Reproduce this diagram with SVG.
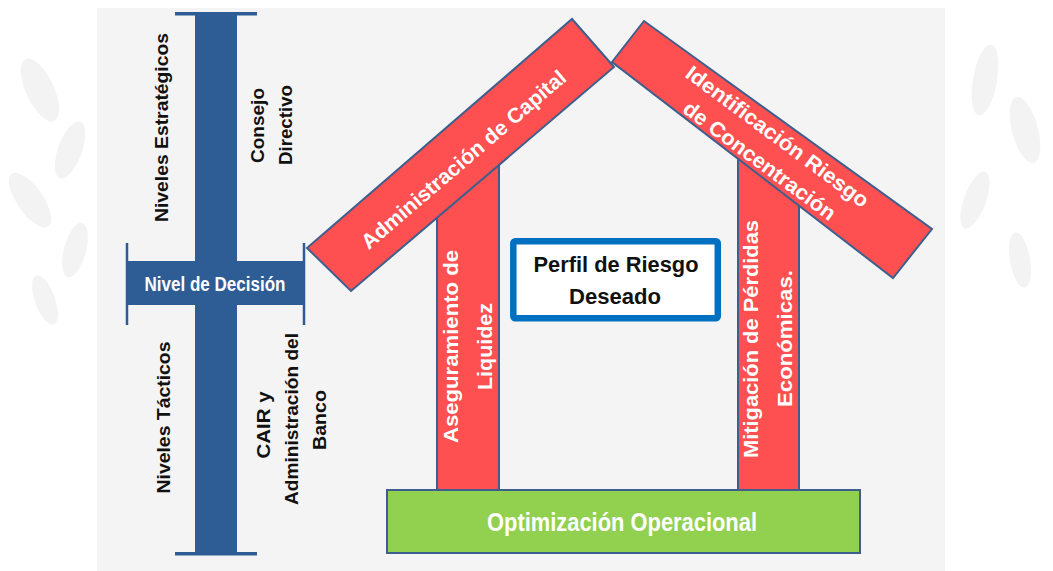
<svg xmlns="http://www.w3.org/2000/svg" width="1053" height="571" viewBox="0 0 1053 571">
<defs>
<style>
.bar{fill:#2e5d96}
.brk{stroke:#2e5d96;stroke-width:2.5;fill:none}
.red{fill:#fe5050;stroke:#3d5f8e;stroke-width:2}
.grn{fill:#92d050;stroke:#3d5f8e;stroke-width:2}
.lbl{font-family:"Liberation Sans",Arial,sans-serif;font-weight:bold;font-size:19px;fill:#111;text-anchor:middle}
.wht{font-family:"Liberation Sans",Arial,sans-serif;font-weight:bold;font-size:21px;fill:#fff;text-anchor:middle}
.bw{font-family:"Liberation Sans",Arial,sans-serif;font-weight:bold;fill:#fff;text-anchor:middle}
.bk{font-family:"Liberation Sans",Arial,sans-serif;font-weight:bold;font-size:22px;fill:#111;text-anchor:middle}
.leaf{fill:#f3f3f3}
</style>
</defs>
<rect width="1053" height="571" fill="#ffffff"/>
<g id="decoration">
<ellipse class="leaf" cx="40" cy="90" rx="14" ry="34" transform="rotate(-25 40 90)"/>
<ellipse class="leaf" cx="70" cy="150" rx="12" ry="30" transform="rotate(20 70 150)"/>
<ellipse class="leaf" cx="30" cy="200" rx="13" ry="32" transform="rotate(-35 30 200)"/>
<ellipse class="leaf" cx="75" cy="250" rx="11" ry="28" transform="rotate(15 75 250)"/>
<ellipse class="leaf" cx="45" cy="300" rx="10" ry="26" transform="rotate(-20 45 300)"/>
<ellipse class="leaf" cx="985" cy="80" rx="12" ry="36" transform="rotate(10 985 80)"/>
<ellipse class="leaf" cx="1025" cy="130" rx="13" ry="34" transform="rotate(-15 1025 130)"/>
<ellipse class="leaf" cx="975" cy="200" rx="11" ry="30" transform="rotate(20 975 200)"/>
<ellipse class="leaf" cx="1020" cy="260" rx="10" ry="28" transform="rotate(-10 1020 260)"/>
</g>
<rect x="97" y="8" width="848" height="563" fill="#f4f4f4"/>
<g id="decision-axis">
<rect class="bar" x="195" y="13" width="42" height="542"/>
<rect class="bar" x="175" y="12" width="82" height="3.5"/>
<rect class="bar" x="175" y="552" width="82" height="3.5"/>
<rect class="bar" x="127" y="261" width="177" height="44"/>
<line class="brk" x1="127" y1="243" x2="127" y2="325"/>
<line class="brk" x1="304" y1="243" x2="304" y2="325"/>
</g>
<g id="nivel-decision">
<text class="bw" font-size="20" x="215" y="291" textLength="141" lengthAdjust="spacingAndGlyphs">Nivel de Decisión</text>
</g>
<g id="niveles-estrategicos">
<text class="lbl" transform="translate(168,127.5) rotate(-90)" textLength="189" lengthAdjust="spacingAndGlyphs">Niveles Estratégicos</text>
</g>
<g id="consejo-directivo">
<text class="lbl" transform="translate(264,125.5) rotate(-90)" textLength="75" lengthAdjust="spacingAndGlyphs">Consejo</text>
<text class="lbl" transform="translate(292,125) rotate(-90)" textLength="80" lengthAdjust="spacingAndGlyphs">Directivo</text>
</g>
<g id="niveles-tacticos">
<text class="lbl" transform="translate(170,417.5) rotate(-90)" textLength="152" lengthAdjust="spacingAndGlyphs">Niveles Tácticos</text>
</g>
<g id="cair">
<text class="lbl" transform="translate(270,425) rotate(-90)" textLength="67" lengthAdjust="spacingAndGlyphs">CAIR y</text>
<text class="lbl" transform="translate(298,419) rotate(-90)" textLength="172" lengthAdjust="spacingAndGlyphs">Administración del</text>
<text class="lbl" transform="translate(326,420) rotate(-90)" textLength="60" lengthAdjust="spacingAndGlyphs">Banco</text>
</g>
<g id="pilar-liquidez">
<rect class="red" x="437" y="160" width="62" height="330"/>
<text class="wht" transform="translate(458,346.5) rotate(-90)" textLength="193" lengthAdjust="spacingAndGlyphs">Aseguramiento de</text>
<text class="wht" transform="translate(492,346.5) rotate(-90)" textLength="87" lengthAdjust="spacingAndGlyphs">Liquidez</text>
</g>
<g id="pilar-mitigacion">
<rect class="red" x="738" y="150" width="61" height="340"/>
<text class="wht" transform="translate(758,339) rotate(-90)" textLength="238" lengthAdjust="spacingAndGlyphs">Mitigación de Pérdidas</text>
<text class="wht" transform="translate(792,338.5) rotate(-90)" textLength="137" lengthAdjust="spacingAndGlyphs">Económicas.</text>
</g>
<g id="administracion-capital">
<polygon class="red" points="307,248 572,19 614,67 351,291"/>
<text class="wht" font-size="22" transform="translate(463,159) rotate(-40.6)" y="8" textLength="262" lengthAdjust="spacingAndGlyphs">Administración de Capital</text>
</g>
<g id="identificacion-riesgo">
<polygon class="red" points="612,62 644,21 932,229 893,278"/>
<text class="wht" font-size="22" transform="translate(769,148) rotate(36.6)" y="-7" textLength="222" lengthAdjust="spacingAndGlyphs">Identificación Riesgo</text>
<text class="wht" font-size="22" transform="translate(769,148) rotate(36.6)" y="23" textLength="184" lengthAdjust="spacingAndGlyphs">de Concentración</text>
</g>
<g id="perfil-riesgo">
<rect x="513.3" y="241.3" width="204.5" height="77" rx="2" fill="#ffffff" stroke="#0070c0" stroke-width="6.5"/>
<text class="bk" x="616" y="272" textLength="165" lengthAdjust="spacingAndGlyphs">Perfil de Riesgo</text>
<text class="bk" x="615" y="304" textLength="92" lengthAdjust="spacingAndGlyphs">Deseado</text>
</g>
<g id="optimizacion">
<rect class="grn" x="387" y="490" width="473" height="63"/>
<text class="bw" font-size="25" x="622" y="531" textLength="270" lengthAdjust="spacingAndGlyphs">Optimización Operacional</text>
</g>
<g id="connectors"></g>
</svg>
